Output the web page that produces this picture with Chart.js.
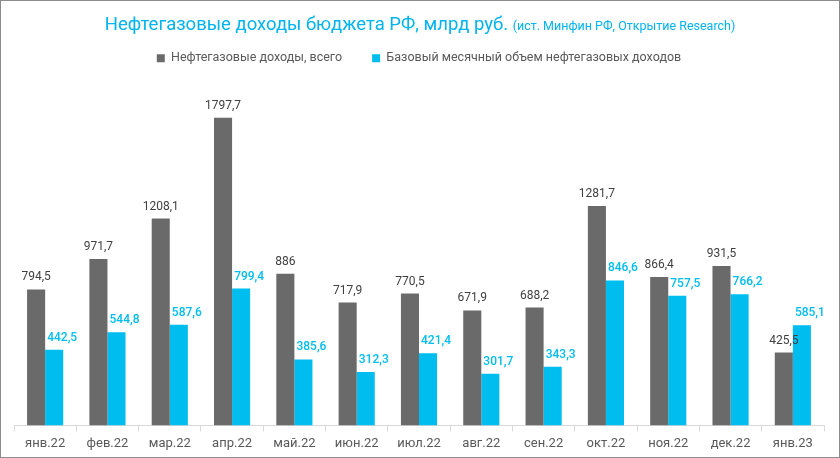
<!DOCTYPE html>
<html>
<head>
<meta charset="utf-8">
<script src="https://cdn.jsdelivr.net/npm/chart.js@4/dist/chart.umd.min.js"></script>
<style>
  html, body { margin: 0; padding: 0; background: #fff; }
  .wrap { position: relative; width: 838px; height: 456px; border: 1px solid #8c8c8c; }
  .title { position: absolute; left: 0; right: 0; top: 12px; text-align: center;
           font-family: Roboto, "Liberation Sans", sans-serif; color: #00b4ef; font-size: 18.5px; }
  .title small { font-size: 12.5px; }
  canvas { position: absolute; left: 0; top: 0; }
</style>
</head>
<body>
<div class="wrap">
  <canvas id="myChart" width="838" height="456"></canvas>
  <div class="title">Нефтегазовые доходы бюджета РФ, млрд руб. <small>(ист. Минфин РФ, Открытие Research)</small></div>
</div>
<script>
const labels = ['янв.22', 'фев.22', 'мар.22', 'апр.22', 'май.22', 'июн.22', 'июл.22',
    'авг.22', 'сен.22', 'окт.22', 'ноя.22', 'дек.22', 'янв.23'];

const totalIncome = [794.5, 971.7, 1208.1, 1797.7, 886, 717.9, 770.5, 671.9, 688.2, 1281.7, 866.4, 931.5, 425.5];
const baseIncome = [442.5, 544.8, 587.6, 799.4, 385.6, 312.3, 421.4, 301.7, 343.3, 846.6, 757.5, 766.2, 585.1];

const grey = '#6a6a6a';
const cyan = '#00bdf0';

// value labels above bars (cyan ones sit a bit to the right, like in excel)
const barValues = {
    id: 'barValues',
    afterDatasetsDraw(chart) {
        const ctx = chart.ctx;
        ctx.save();
        ctx.textAlign = 'center';
        ctx.textBaseline = 'bottom';
        chart.data.datasets.forEach((ds, i) => {
            const meta = chart.getDatasetMeta(i);
            ctx.fillStyle = i === 0 ? '#3f3f3f' : cyan;
            ctx.font = (i === 0 ? '' : '500 ') + '12px Roboto, "Liberation Sans", sans-serif';
            meta.data.forEach((bar, j) => {
                const dx = i === 0 ? 0 : 8;
                ctx.fillText(String(ds.data[j]).replace('.', ','), bar.x + dx, bar.y - 6);
            });
        });
        ctx.restore();
    }
};

const myChart = new Chart(document.getElementById('myChart'), {
    type: 'bar',
    data: {
        labels: labels,
        datasets: [{
            label: 'Нефтегазовые доходы, всего',
            data: totalIncome,
            backgroundColor: grey,
            categoryPercentage: 0.58,
            barPercentage: 1
        }, {
            label: 'Базовый месячный объем нефтегазовых доходов',
            data: baseIncome,
            backgroundColor: cyan,
            categoryPercentage: 0.58,
            barPercentage: 1
        }]
    },
    options: {
        responsive: false,
        animation: false,
        layout: { padding: { left: 13, right: 15, top: 21, bottom: 0 } },
        plugins: {
            legend: {
                labels: {
                    boxWidth: 8,
                    boxHeight: 8,
                    padding: 30,
                    color: '#595959',
                    font: { family: 'Roboto, "Liberation Sans", sans-serif', size: 12.5 }
                }
            },
            tooltip: { enabled: false }
        },
        scales: {
            x: {
                grid: { drawOnChartArea: false, tickLength: 6, color: '#d9d9d9' },
                border: { color: '#d9d9d9' },
                ticks: {
                    color: '#595959',
                    padding: 5,
                    font: { family: 'Roboto, "Liberation Sans", sans-serif', size: 13 }
                }
            },
            y: {
                display: false,
                min: 0,
                max: 2050
            }
        }
    },
    plugins: [barValues]
});
</script>
</body>
</html>
